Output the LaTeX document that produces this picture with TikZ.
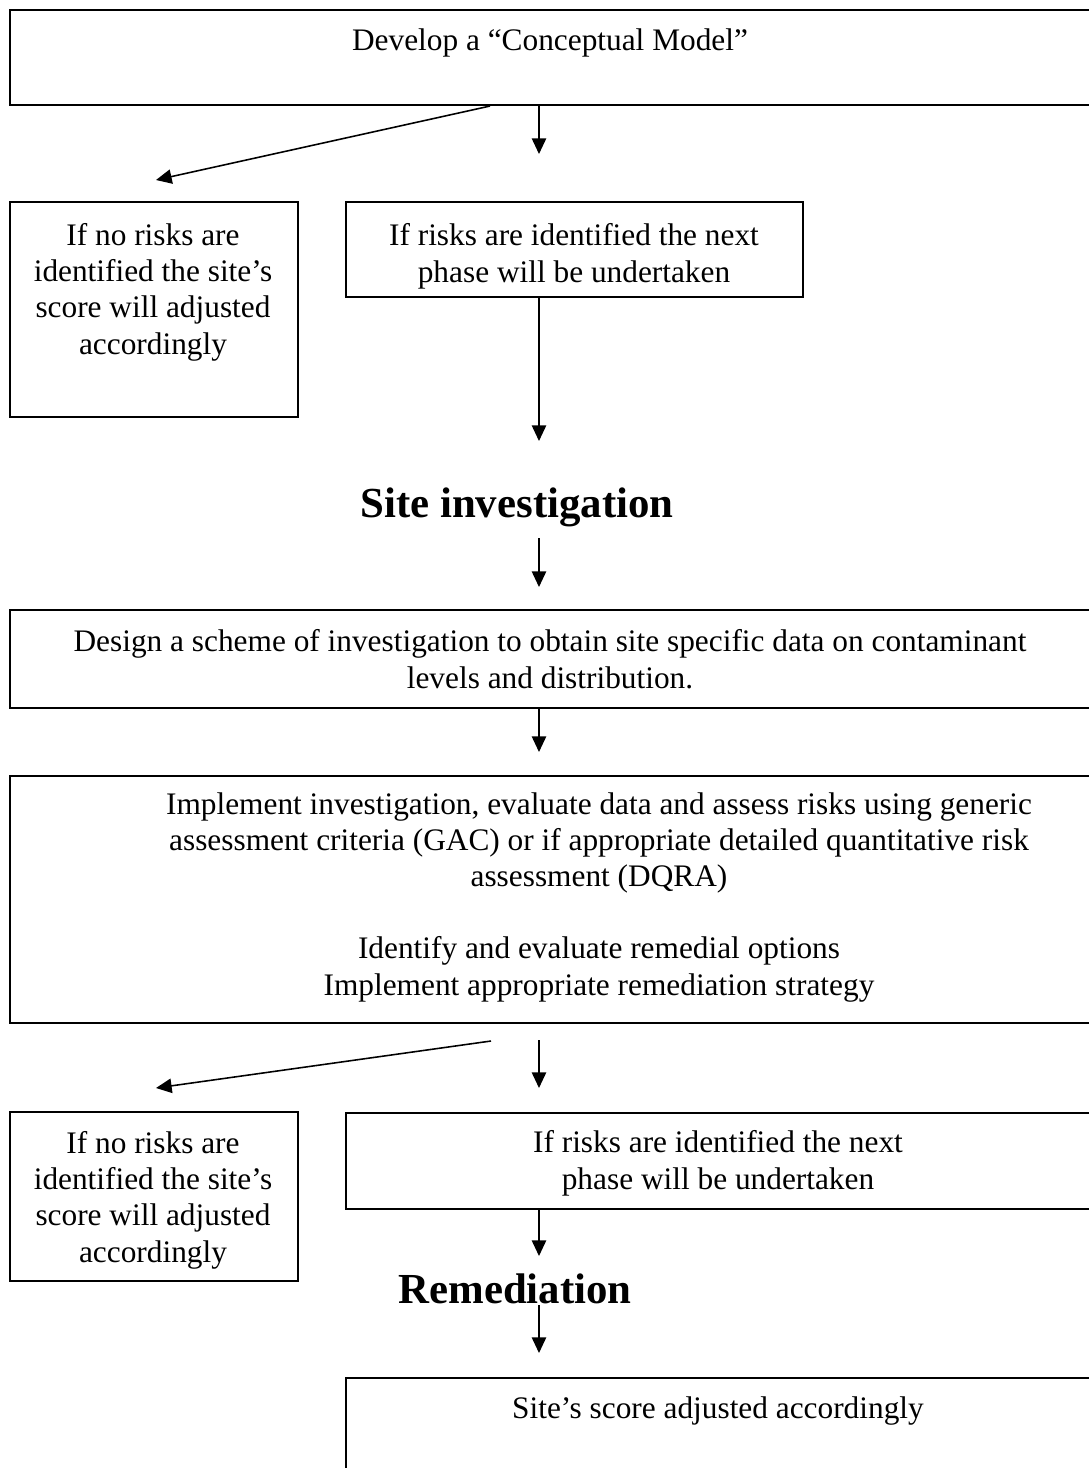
\documentclass[tikz,border=0pt]{standalone}
\usepackage{fontspec}
\setmainfont{Liberation Serif}
\usetikzlibrary{arrows.meta,fit}
\begin{document}
\begin{tikzpicture}[x=0.383pt,y=-0.383pt,
  box/.style={draw=black, line width=0.8pt, inner sep=0pt},
  txt/.style={inner sep=0pt, anchor=base, align=center, font=\fontsize{12}{13.8}\selectfont},
  head/.style={inner sep=0pt, anchor=base, font=\fontsize{16.4}{19}\selectfont\bfseries},
  arr/.style={line width=0.6pt, -{Triangle[length=6pt,width=5.5pt]}}]
\useasboundingbox (0,0) rectangle (1089,1468);
\clip (0,0) rectangle (1089,1468);
% boxes
\node[box, fit={(10,10) (1100,105)}] (top) {};
\node[box, fit={(10,202) (298,417)}] (no1) {};
\node[box, fit={(346,202) (803,297)}] (yes1) {};
\node[box, fit={(10,610) (1100,708)}] (design) {};
\node[box, fit={(10,776) (1100,1023)}] (impl) {};
\node[box, fit={(10,1112) (298,1281)}] (no2) {};
\node[box, fit={(346,1113) (1100,1209)}] (yes2) {};
\node[box, fit={(346,1378) (1100,1520)}] (score) {};
% texts (anchor base = baseline of the last line)
\node[txt] (ttop) at (550,50) {Develop a “Conceptual Model”};
\node[txt] (tno1) at (153,354) {If no risks are\\identified the site’s\\score will adjusted\\accordingly};
\node[txt] (tyes1) at (574,282) {If risks are identified the next\\phase will be undertaken};
\node[head] (si) at (517,517) {Site investigation};
\node[txt] (tdesign) at (550,688) {Design a scheme of investigation to obtain site specific data on contaminant\\levels and distribution.};
\node[txt] (timpl) at (599,995) {Implement investigation, evaluate data and assess risks using generic\\assessment criteria (GAC) or if appropriate detailed quantitative risk\\assessment (DQRA)\\[13.8pt]Identify and evaluate remedial options\\Implement appropriate remediation strategy};
\node[txt] (tno2) at (153,1262) {If no risks are\\identified the site’s\\score will adjusted\\accordingly};
\node[txt] (tyes2) at (718,1189) {If risks are identified the next\\phase will be undertaken};
\node[head] (rem) at (515,1303) {Remediation};
\node[txt] (tscore) at (718,1418) {Site’s score adjusted accordingly};
% free ends
\coordinate (a1) at (156,180);
\coordinate (a2) at (539,154);
\coordinate (a3) at (539,441);
\coordinate (a4s) at (539,538);
\coordinate (a4) at (539,587);
\coordinate (a5) at (539,752);
\coordinate (a6s) at (491,1041);
\coordinate (a6) at (156,1088);
\coordinate (a7s) at (539,1040);
\coordinate (a7) at (539,1088);
\coordinate (a8) at (539,1256);
\coordinate (a9s) at (539,1305);
\coordinate (a9) at (539,1353);
% connectors
\draw[arr] (top.south -| 490,0) -- (a1);
\draw[arr] (top.south -| 539,0) -- (a2);
\draw[arr] (yes1.south -| 539,0) -- (a3);
\draw[arr] (a4s) -- (a4);
\draw[arr] (design.south -| 539,0) -- (a5);
\draw[arr] (a6s) -- (a6);
\draw[arr] (a7s) -- (a7);
\draw[arr] (yes2.south -| 539,0) -- (a8);
\draw[arr] (a9s) -- (a9);
\end{tikzpicture}
\end{document}
